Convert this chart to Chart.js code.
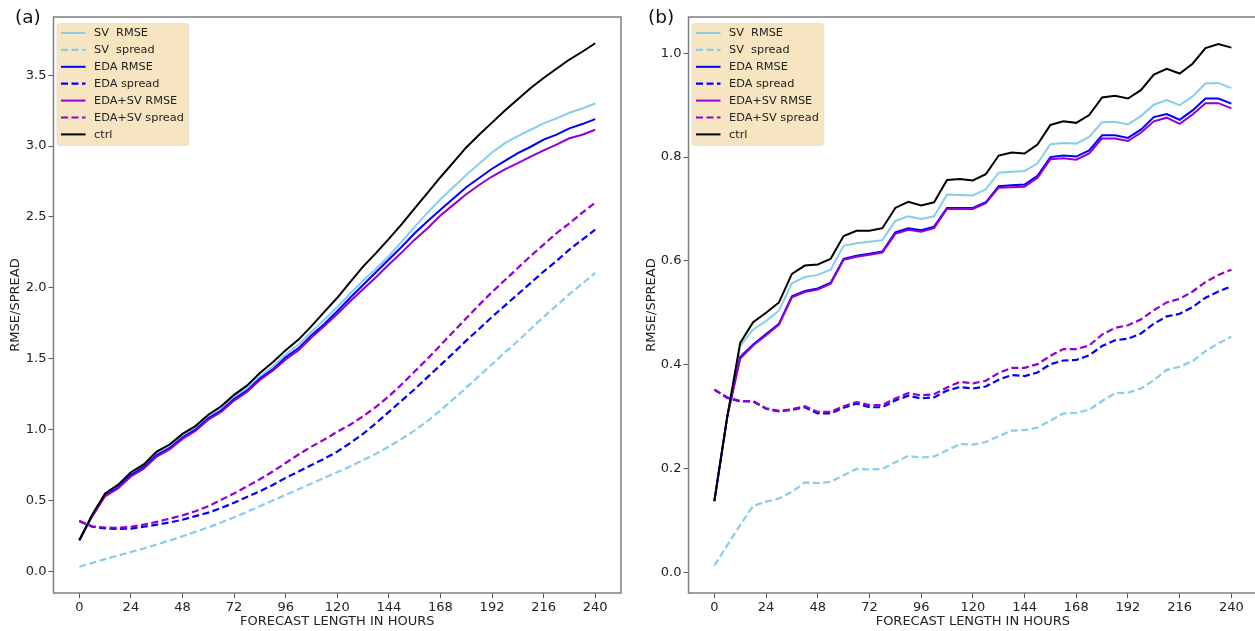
<!DOCTYPE html>
<html>
<head>
<meta charset="utf-8">
<script src="https://cdn.jsdelivr.net/npm/chart.js@4.4.1/dist/chart.umd.min.js"></script>
<style>
  html, body { margin: 0; padding: 0; background: #fff; overflow: hidden; }
  canvas { position: absolute; top: 0; }
  #chartA { left: 0; }
  #chartB { left: 640px; }
</style>
</head>
<body>
<canvas id="chartA" width="627" height="631"></canvas>
<canvas id="chartB" width="618" height="631"></canvas>
<script>
// forecast hours (every 6 h)
const hours = [0, 6, 12, 18, 24, 30, 36, 42, 48, 54, 60, 66, 72, 78, 84, 90, 96, 102, 108, 114,
  120, 126, 132, 138, 144, 150, 156, 162, 168, 174, 180, 186, 192, 198, 204, 210, 216, 222, 228, 234, 240];
const xTicks = [0, 24, 48, 72, 96, 120, 144, 168, 192, 216, 240];
const yTicksA = [0, 0.5, 1.0, 1.5, 2.0, 2.5, 3.0, 3.5];
const yTicksB = [0, 0.2, 0.4, 0.6, 0.8, 1.0];

const labels = ['SV  RMSE', 'SV  spread', 'EDA RMSE', 'EDA spread', 'EDA+SV RMSE', 'EDA+SV spread', 'ctrl'];
const colors = ['#87ceeb', '#87ceeb', '#0000ff', '#0000ff', '#9400d3', '#9400d3', '#000000'];
const dashed = [false, true, false, true, false, true, false];

// panel (a)
const svRmseA = [0.22, 0.40, 0.54, 0.60, 0.69, 0.745, 0.835, 0.88, 0.955, 1.01,
  1.09, 1.15, 1.23, 1.29, 1.375, 1.445, 1.53, 1.60, 1.69, 1.775,
  1.865, 1.96, 2.05, 2.135, 2.225, 2.325, 2.43, 2.53, 2.625, 2.71,
  2.795, 2.875, 2.955, 3.02, 3.07, 3.115, 3.16, 3.195, 3.235, 3.265, 3.30];
const svSpreadA = [0.033, 0.06, 0.087, 0.112, 0.137, 0.162, 0.19, 0.218, 0.248, 0.28,
  0.31, 0.345, 0.382, 0.42, 0.46, 0.50, 0.54, 0.58, 0.62, 0.66,
  0.70, 0.74, 0.785, 0.83, 0.88, 0.935, 0.995, 1.06, 1.135, 1.215,
  1.295, 1.38, 1.46, 1.545, 1.625, 1.71, 1.795, 1.875, 1.955, 2.03, 2.105];
const edaRmseA = [0.22, 0.39, 0.535, 0.59, 0.68, 0.735, 0.82, 0.87, 0.945, 1.0,
  1.08, 1.135, 1.215, 1.275, 1.36, 1.425, 1.51, 1.575, 1.665, 1.745,
  1.835, 1.93, 2.02, 2.11, 2.20, 2.29, 2.385, 2.47, 2.55, 2.63,
  2.71, 2.775, 2.84, 2.895, 2.95, 2.995, 3.045, 3.08, 3.125, 3.155, 3.19];
const edaSpreadA = [0.355, 0.315, 0.303, 0.30, 0.302, 0.315, 0.33, 0.345, 0.365, 0.39,
  0.415, 0.447, 0.485, 0.525, 0.566, 0.61, 0.66, 0.705, 0.75, 0.795,
  0.845, 0.905, 0.97, 1.045, 1.125, 1.205, 1.285, 1.37, 1.455, 1.54,
  1.628, 1.71, 1.795, 1.875, 1.955, 2.035, 2.115, 2.19, 2.27, 2.34, 2.41];
const edaSvRmseA = [0.22, 0.39, 0.53, 0.585, 0.67, 0.725, 0.81, 0.86, 0.935, 0.99,
  1.07, 1.125, 1.205, 1.265, 1.35, 1.415, 1.495, 1.56, 1.65, 1.73,
  1.815, 1.905, 1.99, 2.075, 2.165, 2.25, 2.34, 2.42, 2.51, 2.585,
  2.66, 2.725, 2.785, 2.835, 2.88, 2.925, 2.97, 3.01, 3.055, 3.08, 3.115];
const edaSvSpreadA = [0.355, 0.318, 0.31, 0.308, 0.315, 0.33, 0.35, 0.372, 0.395, 0.425,
  0.46, 0.505, 0.55, 0.60, 0.65, 0.705, 0.765, 0.825, 0.88, 0.93,
  0.985, 1.035, 1.094, 1.16, 1.235, 1.32, 1.41, 1.50, 1.595, 1.69,
  1.785, 1.88, 1.97, 2.055, 2.14, 2.225, 2.305, 2.385, 2.455, 2.53, 2.60];
const ctrlA = [0.22, 0.40, 0.55, 0.61, 0.70, 0.755, 0.845, 0.895, 0.97, 1.025,
  1.105, 1.165, 1.245, 1.31, 1.40, 1.475, 1.56, 1.635, 1.73, 1.83,
  1.93, 2.04, 2.15, 2.245, 2.345, 2.45, 2.56, 2.67, 2.78, 2.885,
  2.99, 3.08, 3.165, 3.25, 3.33, 3.41, 3.48, 3.545, 3.61, 3.665, 3.725];

// panel (b)
const svRmseB = [0.137, 0.30, 0.436, 0.468, 0.484, 0.504, 0.557, 0.569, 0.573, 0.583,
  0.629, 0.634, 0.637, 0.640, 0.677, 0.686, 0.681, 0.686, 0.728, 0.727,
  0.726, 0.738, 0.770, 0.772, 0.773, 0.788, 0.825, 0.827, 0.826, 0.839,
  0.867, 0.868, 0.863, 0.879, 0.901, 0.910, 0.900, 0.917, 0.942, 0.943, 0.933];
const svSpreadB = [0.013, 0.052, 0.091, 0.128, 0.136, 0.142, 0.155, 0.173, 0.172, 0.174,
  0.187, 0.199, 0.198, 0.199, 0.212, 0.224, 0.221, 0.223, 0.235, 0.247,
  0.246, 0.251, 0.262, 0.273, 0.274, 0.279, 0.292, 0.306, 0.307, 0.313,
  0.330, 0.345, 0.346, 0.354, 0.370, 0.390, 0.396, 0.407, 0.426, 0.441, 0.454];
const edaRmseB = [0.137, 0.30, 0.415, 0.439, 0.459, 0.479, 0.532, 0.542, 0.547, 0.558,
  0.604, 0.610, 0.614, 0.618, 0.655, 0.663, 0.659, 0.666, 0.702, 0.702,
  0.702, 0.713, 0.744, 0.746, 0.747, 0.764, 0.800, 0.803, 0.801, 0.813,
  0.842, 0.842, 0.837, 0.853, 0.877, 0.883, 0.872, 0.890, 0.913, 0.913, 0.903];
const edaSpreadB = [0.352, 0.336, 0.329, 0.329, 0.315, 0.310, 0.313, 0.318, 0.306, 0.306,
  0.317, 0.325, 0.318, 0.318, 0.331, 0.340, 0.335, 0.337, 0.350, 0.357,
  0.354, 0.358, 0.371, 0.380, 0.378, 0.385, 0.401, 0.408, 0.409, 0.418,
  0.436, 0.447, 0.450, 0.460, 0.479, 0.493, 0.498, 0.511, 0.529, 0.541, 0.551];
const edaSvRmseB = [0.137, 0.30, 0.412, 0.437, 0.457, 0.477, 0.530, 0.540, 0.545, 0.556,
  0.602, 0.608, 0.612, 0.616, 0.652, 0.660, 0.656, 0.663, 0.700, 0.700,
  0.700, 0.711, 0.741, 0.742, 0.743, 0.760, 0.796, 0.798, 0.795, 0.807,
  0.836, 0.836, 0.831, 0.847, 0.869, 0.876, 0.864, 0.882, 0.904, 0.904, 0.894];
const edaSvSpreadB = [0.352, 0.337, 0.330, 0.330, 0.316, 0.311, 0.314, 0.320, 0.309, 0.309,
  0.320, 0.328, 0.322, 0.322, 0.335, 0.345, 0.341, 0.343, 0.356, 0.367,
  0.364, 0.369, 0.384, 0.394, 0.394, 0.401, 0.417, 0.430, 0.430, 0.437,
  0.458, 0.471, 0.476, 0.487, 0.505, 0.520, 0.527, 0.541, 0.559, 0.573, 0.583];
const ctrlB = [0.137, 0.30, 0.442, 0.482, 0.500, 0.520, 0.575, 0.591, 0.593, 0.604,
  0.648, 0.658, 0.658, 0.663, 0.702, 0.714, 0.707, 0.713, 0.756, 0.758,
  0.755, 0.767, 0.803, 0.809, 0.807, 0.824, 0.862, 0.869, 0.866, 0.881,
  0.915, 0.918, 0.913, 0.929, 0.959, 0.970, 0.961, 0.980, 1.010, 1.018, 1.011];

Chart.defaults.font.family = '"DejaVu Sans", sans-serif';
Chart.defaults.color = '#222';

// box round the plot area
const frame = {
  id: 'frame',
  afterDatasetsDraw(chart) {
    const { ctx, chartArea: a } = chart;
    ctx.save();
    ctx.strokeStyle = '#7f7f7f';
    ctx.lineWidth = 1.5;
    ctx.strokeRect(a.left, a.top, a.right - a.left, a.bottom - a.top);
    ctx.restore();
  }
};

// matplotlib-like legend in the upper left corner
const boxLegend = {
  id: 'boxLegend',
  afterDraw(chart) {
    const { ctx, chartArea: a } = chart;
    const sets = chart.data.datasets;
    ctx.save();
    ctx.font = '11.3px "DejaVu Sans"';
    let w = 0;
    sets.forEach(d => { w = Math.max(w, ctx.measureText(d.label).width); });
    const x0 = a.left + 3.5, y0 = a.top + 6.5;
    const bw = w + 42, bh = 9.5 + 16.9 * (sets.length - 1) + 11;
    ctx.fillStyle = 'rgba(245,222,179,0.8)';
    ctx.strokeStyle = 'rgba(220,220,220,0.8)';
    ctx.lineWidth = 1;
    ctx.beginPath();
    ctx.roundRect(x0, y0, bw, bh, 3);
    ctx.fill();
    ctx.stroke();
    sets.forEach((d, i) => {
      const y = y0 + 9.5 + i * 16.9;
      ctx.beginPath();
      ctx.setLineDash(d.borderDash || []);
      ctx.strokeStyle = d.borderColor;
      ctx.lineWidth = d.borderWidth;
      ctx.moveTo(x0 + 4, y);
      ctx.lineTo(x0 + 28.5, y);
      ctx.stroke();
      ctx.setLineDash([]);
      ctx.fillStyle = '#222';
      ctx.textBaseline = 'middle';
      ctx.fillText(d.label, x0 + 37, y + 0.5);
    });
    ctx.restore();
  }
};

const panelLabel = {
  id: 'panelLabel',
  afterDraw(chart, args, opts) {
    const { ctx } = chart;
    ctx.save();
    ctx.font = '18.5px "DejaVu Sans"';
    ctx.fillStyle = '#111';
    ctx.textBaseline = 'middle';
    ctx.fillText(opts.text, opts.x, opts.y);
    ctx.restore();
  }
};

function makePanel(id, series, yMin, yMax, yTicks, cfg) {
  const datasets = series.map((vals, i) => ({
    label: labels[i],
    data: vals.map((v, j) => ({ x: hours[j], y: v })),
    borderColor: colors[i],
    borderWidth: dashed[i] ? 2.2 : 2,
    borderDash: dashed[i] ? [7, 3.5] : [],
    pointRadius: 0,
    tension: 0,
    fill: false,
    order: series.length - 1 - i
  }));

  return new Chart(document.getElementById(id), {
    type: 'line',
    data: { datasets: datasets },
    options: {
      responsive: false,
      animation: false,
      devicePixelRatio: 1,
      layout: { padding: { left: 0, right: cfg.padRight, top: 17, bottom: 0 } },
      plugins: {
        legend: { display: false },
        tooltip: { enabled: false },
        panelLabel: { text: cfg.tag, x: cfg.tagX, y: 18 }
      },
      scales: {
        x: {
          type: 'linear',
          min: -12,
          max: 252,
          afterBuildTicks: s => { s.ticks = xTicks.map(v => ({ value: v })); },
          afterFit: s => { s.height = 38; },
          ticks: { autoSkip: false, maxRotation: 0, padding: 2, font: { size: 13 }, color: '#222' },
          grid: { drawOnChartArea: false, drawTicks: true, tickLength: 5, color: '#555' },
          border: { display: false },
          title: { display: true, text: 'FORECAST LENGTH IN HOURS', font: { size: 13 }, color: '#222', padding: { top: 0, bottom: 2 } }
        },
        y: {
          type: 'linear',
          min: yMin,
          max: yMax,
          afterBuildTicks: s => { s.ticks = yTicks.map(v => ({ value: v })); },
          afterFit: s => { s.width = cfg.yWidth; },
          ticks: { padding: 2, font: { size: 13 }, color: '#222', callback: v => v.toFixed(1) },
          grid: { drawOnChartArea: false, drawTicks: true, tickLength: 5, color: '#555' },
          border: { display: false },
          title: { display: true, text: 'RMSE/SPREAD', font: { size: 13 }, color: '#222', padding: { top: cfg.titlePad, bottom: 0 } }
        }
      }
    },
    plugins: [frame, boxLegend, panelLabel]
  });
}

makePanel('chartA',
  [svRmseA, svSpreadA, edaRmseA, edaSpreadA, edaSvRmseA, edaSvSpreadA, ctrlA],
  -0.152, 3.91, yTicksA,
  { yWidth: 53.5, padRight: 6, titlePad: 8, tag: '(a)', tagX: 15 });

makePanel('chartB',
  [svRmseB, svSpreadB, edaRmseB, edaSpreadB, edaSvRmseB, edaSvSpreadB, ctrlB],
  -0.04, 1.07, yTicksB,
  { yWidth: 48.5, padRight: 0.8, titlePad: 4, tag: '(b)', tagX: 8 });
</script>
</body>
</html>
